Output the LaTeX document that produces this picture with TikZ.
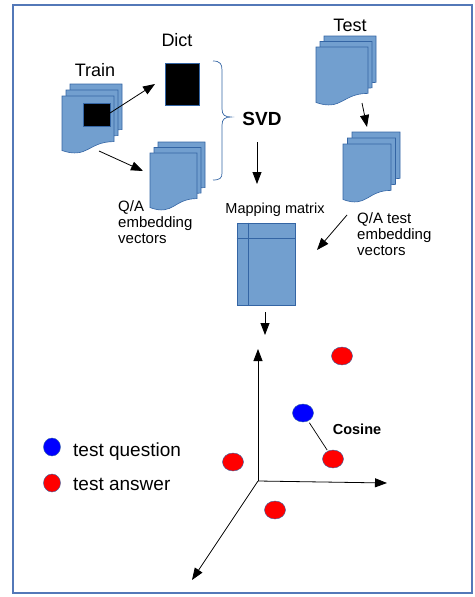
\documentclass[tikz,border=0pt]{standalone}
\usepackage{fontspec}
\setmainfont{Liberation Sans}
\usetikzlibrary{arrows.meta,shapes.geometric}
\definecolor{pagefill}{HTML}{729FCF}
\definecolor{pageline}{HTML}{3465A4}
\definecolor{framec}{HTML}{5378B8}
\definecolor{dotred}{HTML}{FF0000}
\definecolor{dotblue}{HTML}{0000FF}
\newcommand\docpage[4]{%
  \filldraw[pagestyle] ({#1},{#2}) -- ({#1+#3},{#2}) -- ({#1+#3},{#2+0.8*#4})
    .. controls ({#1+0.5*#3},{#2+0.8*#4}) and ({#1+0.5*#3},{#2+1.11*#4}) .. ({#1},{#2+0.957*#4}) -- cycle;}
\newcommand\multidoc[6]{%
  \docpage{#1+2*#5}{#2-2*#6}{#3}{#4}%
  \docpage{#1+#5}{#2-#6}{#3}{#4}%
  \docpage{#1}{#2}{#3}{#4}}
\begin{document}
\begin{tikzpicture}[x=1pt,y=-1pt,
  pagestyle/.style={fill=pagefill,draw=pageline,line width=0.6pt},
  blackbox/.style={fill=black,draw=pageline,line width=0.6pt,inner sep=0},
  matbox/.style={fill=pagefill,draw=pageline,line width=0.6pt,inner sep=0},
  arr/.style={draw=black,line width=0.8pt,-{Triangle[length=12pt,width=9pt]}},
  bigtxt/.style={font=\fontsize{18}{20}\selectfont,inner sep=0},
  midtxt/.style={font=\fontsize{15}{16}\selectfont,inner sep=0,align=left},
  legtxt/.style={font=\fontsize{19}{21}\selectfont,inner sep=0},
  dot/.style={ellipse,draw=pageline,line width=0.4pt,inner sep=0,minimum width=21pt,minimum height=18pt},
  legdot/.style={ellipse,draw=pageline,line width=0.4pt,inner sep=0,minimum width=17pt,minimum height=18pt}]
\useasboundingbox (0,0) rectangle (474,597);
% frame
\draw[framec,line width=1.3pt] (13,5) rectangle (472,593);

% stacks of documents
\multidoc{62}{96}{52}{57}{4}{6}
\multidoc{150}{153}{47}{57}{4}{5.5}
\multidoc{316}{47}{52}{58}{4}{5.5}
\multidoc{343}{144}{48}{58}{4.5}{6}

% boxes
\node[blackbox,minimum width=27pt,minimum height=23pt] (trsq) at (96.5,114.5) {};
\node[blackbox,minimum width=34pt,minimum height=42pt] (dict) at (182,84) {};
\node[matbox,minimum width=58pt,minimum height=82pt] (mat) at (266,264) {};
\draw[pageline,line width=0.6pt] ([xshift=12pt]mat.north west) -- ([xshift=12pt]mat.south west);
\draw[pageline,line width=0.6pt] ([yshift=-16pt]mat.north west) -- ([yshift=-16pt]mat.north east);

% brace
\draw[pageline,line width=0.7pt] (213,61) .. controls (220,61) and (222,64) .. (222,70) -- (222,109)
  .. controls (222,115) and (225,117) .. (231,117) .. controls (225,117) and (222,119) .. (222,125)
  -- (222,173) .. controls (222,178) and (220,180) .. (213,180);

% labels
\node[bigtxt,anchor=base] (ltrain) at (95,76) {Train};
\node[bigtxt,anchor=base] (ldict) at (177,46) {Dict};
\node[bigtxt,anchor=base] (ltest) at (350,31) {Test};
\node[font=\bfseries\fontsize{19}{21}\selectfont,inner sep=0,anchor=base] (lsvd) at (262,125) {SVD};
\node[font=\fontsize{14.5}{16}\selectfont,inner sep=0,anchor=base] (lmap) at (275,213) {Mapping matrix};
\node[midtxt,anchor=north west] (lqa) at (118,200) {Q/A\\embedding\\vectors};
\node[midtxt,anchor=north west] (lqat) at (357,212) {Q/A test\\embedding\\vectors};
\node[font=\bfseries\fontsize{14.5}{16}\selectfont,inner sep=0,anchor=base] (lcos) at (357,434) {Cosine};

% arrow end points
\coordinate (a1s) at (110,113); \coordinate (a1e) at (155,84);
\coordinate (a2s) at (99,151);  \coordinate (a2e) at (143,171);
\coordinate (a3s) at (257,142); \coordinate (a3e) at (257,184);
\coordinate (a4s) at (362,103); \coordinate (a4e) at (367,127);
\coordinate (a5s) at (347,215); \coordinate (a5e) at (317,250);
\coordinate (a6s) at (265,312); \coordinate (a6e) at (265,335);
\draw[arr] (a1s) -- (a1e);
\draw[arr] (a2s) -- (a2e);
\draw[arr] (a3s) -- (a3e);
\draw[arr] (a4s) -- (a4e);
\draw[arr] (a5s) -- (a5e);
\draw[arr] (a6s) -- (a6e);

% axes
\coordinate (o) at (258,481);
\coordinate (ay) at (258,349);
\coordinate (ax) at (387,483);
\coordinate (az) at (192,580);
\draw[arr] (o) -- (ay);
\draw[arr] (o) -- (ax);
\draw[arr] (o) -- (az);

% points
\node[dot,fill=dotred] (p1) at (342,356) {};
\node[dot,fill=dotblue] (q) at (303,413) {};
\node[dot,fill=dotred] (p2) at (333,459) {};
\node[dot,fill=dotred] (p3) at (233,462) {};
\node[dot,fill=dotred] (p4) at (275,510) {};
\draw[black,line width=0.7pt,shorten <=2pt,shorten >=1pt] (q) -- (p2);

% legend
\node[legdot,fill=dotblue] (lgq) at (52,447) {};
\node[legdot,fill=dotred] (lga) at (52,483) {};
\node[legtxt,anchor=base west] (tq) at (73,456) {test question};
\node[legtxt,anchor=base west] (ta) at (73,490) {test answer};
\end{tikzpicture}
\end{document}
